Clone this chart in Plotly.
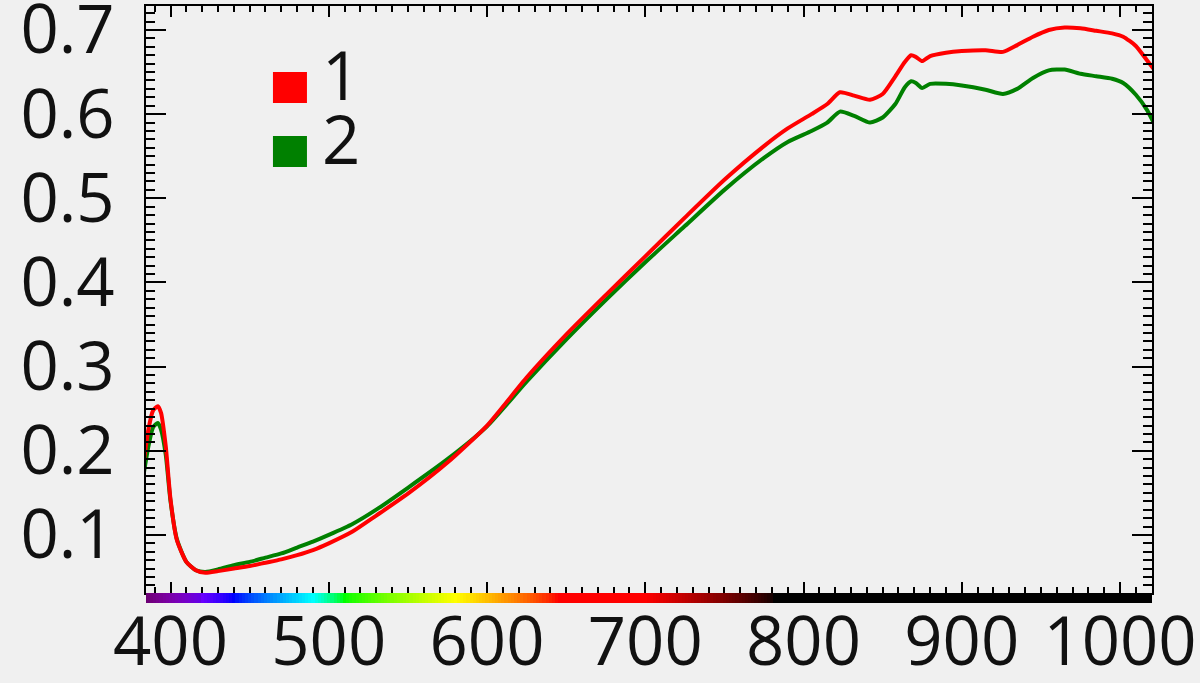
import numpy as np
import plotly.graph_objects as go

# ---- data ----
wavelength = [383, 386, 389, 392, 394, 397, 400, 404, 410, 416, 422, 430, 440, 450, 460,
              470, 480, 490, 500, 515, 530, 550, 575, 600, 625, 650, 675, 700, 725, 750,
              775, 790, 805, 815, 823, 832, 842, 850, 858, 864, 868, 871, 875, 880, 890,
              900, 915, 926, 935, 945, 955, 965, 975, 985, 995, 1002, 1010, 1017, 1022]

series_1 = [0.185, 0.225, 0.248, 0.253, 0.245, 0.205, 0.142, 0.094, 0.068, 0.058, 0.055,
            0.057, 0.060, 0.063, 0.067, 0.071, 0.076, 0.082, 0.090, 0.104, 0.123, 0.149,
            0.186, 0.230, 0.287, 0.338, 0.385, 0.431, 0.477, 0.522, 0.562, 0.583, 0.600,
            0.612, 0.626, 0.622, 0.617, 0.624, 0.645, 0.662, 0.670, 0.668, 0.663, 0.669,
            0.673, 0.675, 0.676, 0.674, 0.682, 0.692, 0.700, 0.703, 0.702, 0.699, 0.696,
            0.692, 0.681, 0.664, 0.652]

series_2 = [0.172, 0.205, 0.228, 0.233, 0.225, 0.195, 0.140, 0.095, 0.068, 0.058, 0.056,
            0.059, 0.064, 0.068, 0.073, 0.078, 0.085, 0.092, 0.100, 0.113, 0.130, 0.156,
            0.190, 0.229, 0.282, 0.332, 0.379, 0.424, 0.467, 0.510, 0.548, 0.567, 0.580,
            0.590, 0.603, 0.598, 0.590, 0.596, 0.612, 0.632, 0.639, 0.637, 0.631, 0.636,
            0.636, 0.634, 0.629, 0.624, 0.630, 0.643, 0.652, 0.653, 0.648, 0.645, 0.642,
            0.637, 0.623, 0.605, 0.587]

series_names = ["1", "2"]
series_colors = ["#ff0000", "#008000"]

x_tick_vals = [400, 500, 600, 700, 800, 900, 1000]
y_tick_vals = [0.1, 0.2, 0.3, 0.4, 0.5, 0.6, 0.7]
y_tick_text = ["0.1", "0.2", "0.3", "0.4", "0.5", "0.6", "0.7"]
x_range = [384.5, 1020.2]
y_range = [0.031, 0.7285]


# ---- spectral colour bar (decoration) ----
def wl_rgb(w):
    if 380 <= w < 440:
        r, g, b = -(w - 440) / 60, 0.0, 1.0
    elif 440 <= w < 490:
        r, g, b = 0.0, (w - 440) / 50, 1.0
    elif 490 <= w < 510:
        r, g, b = 0.0, 1.0, -(w - 510) / 20
    elif 510 <= w < 580:
        r, g, b = (w - 510) / 70, 1.0, 0.0
    elif 580 <= w < 645:
        r, g, b = 1.0, -(w - 645) / 65, 0.0
    elif 645 <= w <= 780:
        r, g, b = 1.0, 0.0, 0.0
    else:
        r, g, b = 0.0, 0.0, 0.0
    if 380 <= w < 420:
        f = 0.3 + 0.6 * (w - 380) / 40
    elif 420 <= w <= 700:
        f = 1.0
    elif 700 < w <= 780:
        f = max(0.0, (780 - w) / 80) * 0.95 + 0.05
    else:
        f = 0.0
    return "rgb(%d,%d,%d)" % tuple(int(round(255 * (c * f) ** 0.8)) if c * f > 0 else 0 for c in (r, g, b))


bar_wl = list(range(380, 1024, 2))
n = len(bar_wl)
bar_scale = [[i / (n - 1), wl_rgb(w)] for i, w in enumerate(bar_wl)]

fig = go.Figure()

# colour bar heatmap on its own small axes
fig.add_trace(go.Heatmap(
    x=bar_wl, y=[0], z=[list(range(n))], zmin=0, zmax=n - 1,
    colorscale=bar_scale, showscale=False, hoverinfo="skip",
    xaxis="x2", yaxis="y2"))

# curves: green first, red on top
for name, ys, col in [(series_names[1], series_2, series_colors[1]),
                      (series_names[0], series_1, series_colors[0])]:
    fig.add_trace(go.Scatter(
        x=wavelength, y=ys, mode="lines", name=name,
        line=dict(color=col, width=4, shape="spline", smoothing=0.6),
        showlegend=False, xaxis="x", yaxis="y"))

bar_h = 10 / 597.0
font_main = dict(family="Open Sans", size=67, color="#111111")

fig.update_layout(
    width=1200, height=683,
    margin=dict(l=146, r=48, t=6, b=80, autoexpand=False),
    paper_bgcolor="#f0f0f0", plot_bgcolor="#f0f0f0",
    showlegend=False,
    xaxis=dict(
        domain=[0, 1], anchor="y", range=x_range, automargin=False,
        tickvals=x_tick_vals, ticks="inside", ticklen=11, tickwidth=2,
        tickcolor="black", showline=True, linecolor="black", linewidth=2,
        mirror="ticks", showgrid=False, zeroline=False,
        tickfont=font_main, ticklabelstandoff=-10, ticklabeloverflow="allow",
        minor=dict(dtick=10, tick0=0, ticks="inside", ticklen=6, tickwidth=2,
                   tickcolor="black", showgrid=False),
    ),
    yaxis=dict(
        domain=[bar_h, 1], anchor="x", range=y_range, automargin=False,
        tickvals=y_tick_vals, ticktext=y_tick_text,
        ticks="inside", ticklen=20, tickwidth=2,
        tickcolor="black", showline=True, linecolor="black", linewidth=2,
        mirror="ticks", showgrid=False, zeroline=False,
        tickfont=font_main, ticklabelstandoff=16, ticklabeloverflow="allow",
        minor=dict(dtick=0.01, tick0=0, ticks="inside", ticklen=9, tickwidth=2,
                   tickcolor="black", showgrid=False),
    ),
    xaxis2=dict(domain=[0, 1], anchor="y2", range=x_range, visible=False),
    yaxis2=dict(domain=[0, bar_h], anchor="x2", range=[-0.5, 0.5], visible=False),
)

# manual legend (squares + labels)
legend_rows = [(0.8894, 0.8375, 0.886), (0.7822, 0.7303, 0.779)]
for (y1, y0, ty), name, col in zip(legend_rows, series_names, series_colors):
    fig.add_shape(type="rect", xref="paper", yref="paper",
                  x0=0.1262, x1=0.160, y0=y0, y1=y1,
                  fillcolor=col, line=dict(width=0))
    fig.add_annotation(xref="paper", yref="paper", x=0.173, y=ty,
                       xanchor="left", yanchor="middle", text=name,
                       showarrow=False, font=font_main)

fig.write_html("out.html", config={"displayModeBar": False},
               post_script="document.body.style.margin='0';document.body.style.overflow='hidden';")
